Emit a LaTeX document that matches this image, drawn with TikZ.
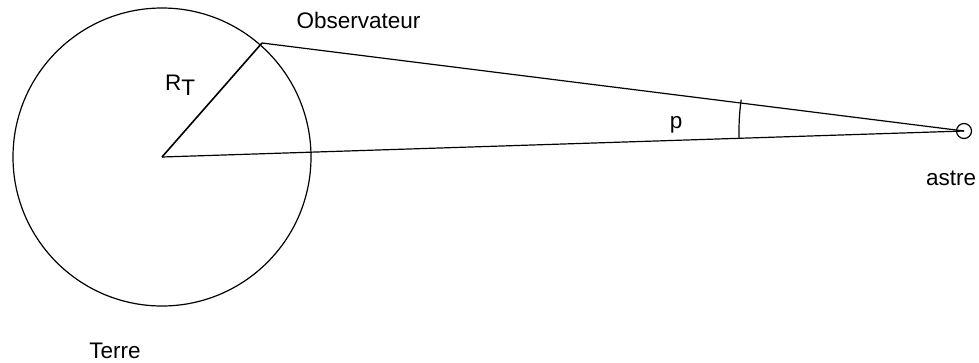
\documentclass[tikz,border=0pt]{standalone}
\usepackage{fontspec}
\setmainfont{Liberation Sans}
\usetikzlibrary{calc}
\tikzset{
  geo/.style={line width=1.2pt, black},
  lbl/.style={font=\fontsize{22.5}{27}\selectfont, inner sep=0pt, anchor=base},
}
\begin{document}
\begin{tikzpicture}[x=1pt,y=1pt]
\useasboundingbox (0,0) rectangle (979,-362);
\coordinate (C) at (162,-157);
\coordinate (O) at (262,-43);
\node[circle, draw, geo, minimum size=298pt, inner sep=0pt] (earth) at (C) {};
\node[circle, draw, geo, minimum size=15pt, inner sep=0pt] (astre) at (964,-131) {};
\draw[line width=1.6pt] (C) -- (O);
\draw[geo] (O) -- (astre.center);
\draw[geo] (C) -- (astre.center);
\draw[geo] ($(astre.center)+(172.0:225)$) arc[start angle=172.0, end angle=182.0, radius=225pt];
\node[lbl] (obs) at (358.5,-28) {Observateur};
\node[lbl] (terre) at (115,-358) {Terre};
\node[lbl] (astrelbl) at (951,-185) {astre};
\node[lbl] (p) at (676,-128) {p};
\node[lbl, anchor=base west] (rt) at (165,-90) {R\raisebox{-5pt}{T}};
\end{tikzpicture}
\end{document}
